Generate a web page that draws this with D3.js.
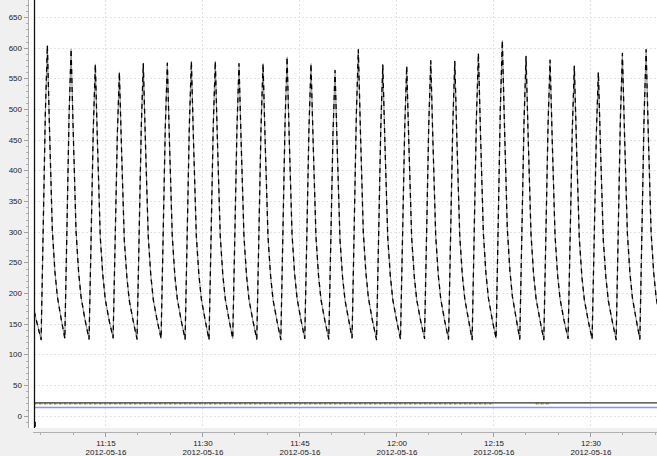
<!DOCTYPE html>
<html>
<head>
<meta charset="utf-8">
<script src="https://cdn.jsdelivr.net/npm/d3@7/dist/d3.min.js"></script>
<style>
html,body{margin:0;padding:0;background:#f0f0f0;overflow:hidden;}
svg{display:block;}
text{font-family:"Liberation Sans",Arial,sans-serif;font-size:8px;fill:#222;}
</style>
</head>
<body>
<svg id="chart" width="657" height="456"></svg>
<script>
// ---- data ----
const day = "2012-05-16";
const leadTimes = ["11:04:03"];
const leadValues = [170];
const peakTimes = ["11:06:05","11:09:45","11:13:30","11:17:13","11:20:55","11:24:38","11:28:21","11:32:03","11:35:43","11:39:26","11:43:09","11:46:51","11:50:34","11:54:10","11:57:57","12:01:39","12:05:22","12:09:05","12:12:44","12:16:26","12:20:06","12:23:49","12:27:34","12:31:17","12:35:00","12:38:40"];
const sampleOffsets = [-58, -37, -19, 0, 20, 46, 70, 93, 130]; // seconds from each peak
const cycleValues = [
  [124,321,492,604,466,303,235,194,156],
  [126,319,487,598,462,301,234,193,156],
  [125,309,468,573,444,291,228,189,154],
  [127,303,458,560,435,286,225,187,153],
  [125,309,469,574,445,292,228,189,154],
  [126,310,470,575,445,292,228,190,154],
  [125,311,472,578,447,293,229,190,154],
  [124,311,472,578,447,293,229,190,154],
  [126,309,469,574,445,292,228,189,154],
  [125,309,469,574,445,292,228,189,154],
  [124,314,477,585,452,296,231,191,155],
  [126,309,469,574,445,292,228,189,154],
  [125,305,460,563,437,287,225,188,153],
  [127,319,487,597,461,300,234,193,156],
  [124,308,467,572,443,291,228,189,154],
  [125,307,466,570,442,290,227,189,154],
  [126,311,473,579,448,293,229,190,154],
  [125,311,472,578,447,293,229,190,154],
  [124,316,482,591,457,298,232,192,155],
  [126,325,498,612,472,306,237,195,157],
  [125,314,478,586,453,296,231,191,155],
  [124,312,474,580,449,294,229,190,155],
  [126,307,466,570,442,290,227,189,154],
  [125,303,458,560,435,286,225,187,153],
  [124,316,482,591,457,298,232,192,155],
  [125,319,487,597,461,300,234,193,156]
];
const blackTimes = ["11:04:01","12:40:21"];
const blackValues = [21, 21];
const blueTimes = ["11:04:01","12:40:21"];
const blueValues = [13.5, 13.5];
const dotSegStart = ["11:04:01","12:21:36"];
const dotSegEnd = ["12:15:00","12:23:55"];
const dotValue = 19.5;
const markerTime = "11:04:04";
const markerValue = -14;
const yTicks = [0,50,100,150,200,250,300,350,400,450,500,550,600,650];
const xDomain = ["11:04:01","12:40:21"];

// ---- build ----
const parse = d3.timeParse("%Y-%m-%d %H:%M:%S");
const T = s => parse(day + " " + s);

const svg = d3.select("#chart");
const W = 657, H = 456;
const plot = {l:34, r:657, t:0, b:428};

const x = d3.scaleTime().domain(xDomain.map(T)).range([plot.l, plot.r]);
const y = d3.scaleLinear().domain([-20, 678]).range([plot.b, plot.t]);

// backgrounds
svg.append("rect").attr("x",0).attr("y",0).attr("width",W).attr("height",H).attr("fill","#f0f0f0");
svg.append("rect").attr("x",29).attr("y",0).attr("width",W-29).attr("height",plot.b).attr("fill","#ffffff");

svg.append("defs").append("clipPath").attr("id","clip")
  .append("rect").attr("x",plot.l).attr("y",plot.t).attr("width",plot.r-plot.l).attr("height",plot.b-plot.t);

// grid
const grid = svg.append("g");
grid.selectAll("line.h").data(yTicks).join("line")
  .attr("x1",plot.l).attr("x2",plot.r)
  .attr("y1",d=>Math.round(y(d))+0.5).attr("y2",d=>Math.round(y(d))+0.5)
  .attr("stroke","#e4e4e4").attr("stroke-dasharray","2,2");
const majorX = d3.timeMinute.every(15).range(x.domain()[0], x.domain()[1]);
grid.selectAll("line.v").data(majorX).join("line")
  .attr("x1",d=>Math.round(x(d))+0.5).attr("x2",d=>Math.round(x(d))+0.5)
  .attr("y1",plot.t).attr("y2",plot.b)
  .attr("stroke","#e4e4e4").attr("stroke-dasharray","2,2");

// y axis
const minorY = d3.range(-10, 678, 10);
const yAx = svg.append("g");
yAx.append("line").attr("x1",28.5).attr("x2",28.5).attr("y1",0).attr("y2",plot.b).attr("stroke","#a8a8a8");
yAx.selectAll("line.mn").data(minorY.filter(v=>v%50!==0)).join("line")
  .attr("x1",26).attr("x2",28).attr("y1",d=>Math.round(y(d))+0.5).attr("y2",d=>Math.round(y(d))+0.5)
  .attr("stroke","#b0b0b0");
yAx.selectAll("line.mj").data(yTicks).join("line")
  .attr("x1",24).attr("x2",28).attr("y1",d=>Math.round(y(d))+0.5).attr("y2",d=>Math.round(y(d))+0.5)
  .attr("stroke","#a0a0a0");
yAx.selectAll("text").data(yTicks).join("text")
  .attr("x",22).attr("y",d=>y(d)+3).attr("text-anchor","end").text(d=>d);

// x axis
const xAx = svg.append("g");
const axY = 432.5;
xAx.append("line").attr("x1",33).attr("x2",plot.r).attr("y1",axY).attr("y2",axY).attr("stroke","#b0b0b0");
const minorX = d3.timeMinute.every(5).range(x.domain()[0], x.domain()[1]);
xAx.selectAll("line.mn").data(minorX).join("line")
  .attr("x1",d=>Math.round(x(d))+0.5).attr("x2",d=>Math.round(x(d))+0.5)
  .attr("y1",axY).attr("y2",axY+2.5).attr("stroke","#b0b0b0");
xAx.selectAll("line.mj").data(majorX).join("line")
  .attr("x1",d=>Math.round(x(d))+0.5).attr("x2",d=>Math.round(x(d))+0.5)
  .attr("y1",axY).attr("y2",axY+4.5).attr("stroke","#a0a0a0");
const fH = d3.timeFormat("%H:%M"), fD = d3.timeFormat("%Y-%m-%d");
const lbl = xAx.selectAll("g.lbl").data(majorX).join("g");
lbl.append("text").attr("x",d=>x(d)+1).attr("y",446).attr("text-anchor","middle").text(d=>fH(d));
lbl.append("text").attr("x",d=>x(d)+1).attr("y",454.5).attr("text-anchor","middle").text(d=>fD(d));

// series
const g = svg.append("g").attr("clip-path","url(#clip)");

const pts = [];
leadTimes.forEach((t,i)=>pts.push({t:T(t), v:leadValues[i]}));
peakTimes.forEach((pt,i)=>{
  const base = T(pt);
  sampleOffsets.forEach((o,j)=>pts.push({t:new Date(base.getTime()+o*1000), v:cycleValues[i][j]}));
});
const line = d3.line().x(d=>x(d.t)).y(d=>y(d.v)).curve(d3.curveLinear);

// flat series
const flat = (times, vals) => times.map((t,i)=>({t:T(t), v:vals[i]}));
const lineL = d3.line().x(d=>x(d.t)).y(d=>y(d.v));
g.append("path").datum(flat(blueTimes, blueValues)).attr("d",lineL)
  .attr("fill","none").attr("stroke","#8c8cff").attr("stroke-width",1.6);
dotSegStart.forEach((s,i)=>{
  const seg = [{t:T(s), v:dotValue},{t:T(dotSegEnd[i]), v:dotValue}];
  g.append("path").datum(seg).attr("d",lineL).attr("fill","none")
    .attr("stroke","#7aa048").attr("stroke-width",1.2).attr("stroke-dasharray","2,3");
  g.append("path").datum(seg).attr("d",lineL).attr("fill","none")
    .attr("stroke","#b89a50").attr("stroke-width",1.2).attr("stroke-dasharray","1,4").attr("stroke-dashoffset",-2.5);
});
g.append("path").datum(flat(blackTimes, blackValues)).attr("d",lineL)
  .attr("fill","none").attr("stroke","#333").attr("stroke-width",1.1);

// main line
g.append("path").datum(pts).attr("d",line).attr("fill","none")
  .attr("stroke","#909090").attr("stroke-width",1.1).attr("stroke-linejoin","round");
g.append("path").datum(pts).attr("d",line).attr("fill","none")
  .attr("stroke","#000").attr("stroke-width",1.3).attr("stroke-dasharray","5,4").attr("stroke-linejoin","round");

// marker
g.append("rect").attr("x",x(T(markerTime))-1.5).attr("y",y(markerValue)-2.5).attr("width",3).attr("height",5).attr("fill","#000");

// left border of plot
svg.append("line").attr("x1",34.5).attr("x2",34.5).attr("y1",0).attr("y2",plot.b).attr("stroke","#111").attr("stroke-width",1.3);
</script>
</body>
</html>
